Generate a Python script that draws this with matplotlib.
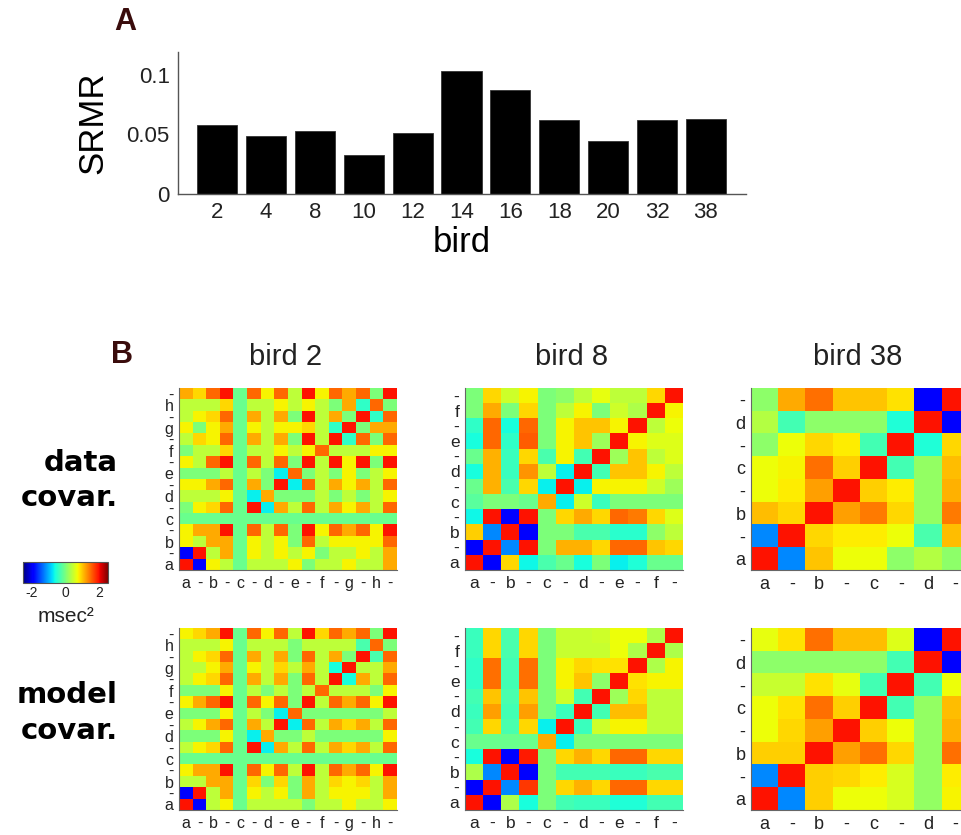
import matplotlib
matplotlib.use("Agg")
import matplotlib.pyplot as plt
import numpy as np

plt.rcParams['font.family'] = ['Liberation Sans', 'DejaVu Sans']
plt.rcParams['axes.unicode_minus'] = False

# ---------------- data ----------------
birds = ['2', '4', '8', '10', '12', '14', '16', '18', '20', '32', '38']
srmr = [0.0575, 0.0482, 0.0532, 0.0329, 0.0515, 0.103, 0.0874, 0.0622, 0.0441, 0.0616, 0.0627]

labels_b2 = ['a', '-', 'b', '-', 'c', '-', 'd', '-', 'e', '-', 'f', '-', 'g', '-', 'h', '-']
labels_b8 = ['a', '-', 'b', '-', 'c', '-', 'd', '-', 'e', '-', 'f', '-']
labels_b38 = ['a', '-', 'b', '-', 'c', '-', 'd', '-']

# covariance matrices, rows listed from top (last syllable) to bottom ('a')
b2_data = [
    [1.15, 0.9, 1.5, 1.95, -0.1, 1.5, 0.75, 1.5, 0.4, 1.95, 0.75, 1.5, 1.15, 1.5, 0, 1.95],
    [0.4, 0.4, 0.4, 0.9, -0.1, 0.4, 0.4, 0.75, 0.4, 0.75, 0.4, 0, 1.15, -0.45, 1.5, 0],
    [0.4, 0.75, 0.9, 1.5, -0.1, 1.15, 0.4, 1.15, 0, 1.95, 0.4, 1.15, 0, 1.95, -0.45, 1.5],
    [0.75, 0, 0.75, 1.15, -0.1, 0.75, 0.4, 0.75, 0.75, 0.9, 0.4, -0.45, 1.95, 0, 1.15, 1.15],
    [0.4, 0.9, 0.75, 1.5, -0.1, 1.15, 0.4, 1.15, 0, 1.95, 0.4, 1.95, -0.45, 1.5, 0, 1.5],
    [0, 0.4, 0.4, 0.9, -0.1, 0.4, 0.4, 0.75, 0.4, 0.75, 1.5, 0.4, 0.4, 0.4, 0.75, 0.75],
    [0.75, 0.4, 1.5, 1.95, -0.1, 1.5, 0.4, 1.5, 0, 1.95, 0.4, 1.95, 0.75, 1.95, 0, 1.95],
    [0, 0, 0, 0.4, -0.1, 0.4, 0, -0.7, 1.5, 0, 0.4, 0, 0.75, 0, 0.4, 0.75],
    [0.75, 0.75, 1.15, 1.5, -0.1, 1.15, 0, 1.95, -0.7, 1.5, 0.4, 1.15, 0.75, 1.15, 0.4, 1.5],
    [0.4, 0.4, 0.4, 0.75, -0.1, -0.7, 1.15, 0, 0, 0, 0.4, 0, 0.4, 0, 0.4, 0.75],
    [0, 0.75, 0.9, 1.5, -0.1, 1.95, -0.7, 1.15, 0.4, 1.5, 0.4, 1.15, 0.75, 1.15, 0.4, 1.5],
    [-0.1, -0.1, -0.1, -0.1, -0.1, -0.1, -0.1, -0.1, -0.1, -0.1, -0.1, -0.1, -0.1, -0.1, -0.1, -0.1],
    [0.75, 1.15, 1.15, 1.95, -0.1, 1.5, 0.4, 1.5, 0, 1.95, 0.75, 1.5, 1.15, 1.5, 0.75, 1.95],
    [0.75, 0.4, 1.15, 1.15, -0.1, 0.75, 0.4, 0.75, 0, 1.5, 0.4, 0.75, 0.75, 0.75, 0.75, 1.5],
    [-1.9, 1.95, 0.4, 1.15, -0.1, 0.75, 0.4, 0.75, 0.4, 0.75, 0, 0.4, 0.4, 0.75, 0.4, 1.15],
    [1.95, -1.9, 0.75, 0.4, -0.1, 0.4, 0.4, 0.4, 0.75, 0, 0.4, 0.4, 0.75, 0.4, 0.4, 1.15],
]
b2_model = [
    [0.75, 0.9, 1.15, 1.95, -0.1, 1.5, 0.75, 1.5, 0.4, 1.95, 0.9, 1.5, 1.15, 1.5, 0, 1.95],
    [0.4, 0.4, 0.4, 0.75, -0.1, 0.4, 0.4, 0.4, 0, 0.4, 0.4, 0.4, 0.4, -0.3, 1.5, 0],
    [0.4, 0.75, 0.9, 1.5, -0.1, 1.15, 0.4, 1.15, 0, 1.5, 0.4, 1.15, 0, 1.95, -0.3, 1.5],
    [0.4, 0.4, 0.75, 1.15, -0.1, 0.75, 0.4, 0.9, 0.4, 1.15, 0.4, -0.6, 1.95, 0.4, 0.4, 1.15],
    [0.4, 0.75, 0.9, 1.5, -0.1, 1.15, 0.4, 1.15, 0, 1.5, 0.4, 1.95, -0.6, 1.15, 0.4, 1.5],
    [0, 0, 0, 0.75, -0.1, 0.4, 0, 0.4, 0, 0.4, 1.5, 0.4, 0.4, 0.4, 0, 0.75],
    [0.75, 1.15, 1.5, 1.95, -0.1, 1.5, 0.75, 1.5, 0, 1.95, 0.4, 1.5, 1.15, 1.5, 0.75, 1.95],
    [0, 0, 0, 0.75, -0.1, 0.4, 0, -0.7, 1.5, 0, 0, 0, 0, 0, 0, 0.4],
    [0.4, 0.75, 1.15, 1.5, -0.1, 1.15, 0.4, 1.95, -0.7, 1.5, 0.4, 1.15, 0.9, 1.15, 0.4, 1.5],
    [0, 0, 0, 0.75, -0.1, -0.7, 1.15, 0, 0, 0.4, 0, 0, 0, 0, 0, 0.75],
    [0.4, 0.75, 0.9, 1.5, -0.1, 1.95, -0.7, 1.15, 0.4, 1.5, 0.4, 1.15, 0.9, 1.15, 0.4, 1.5],
    [-0.1, -0.1, -0.1, -0.1, -0.1, -0.1, -0.1, -0.1, -0.1, -0.1, -0.1, -0.1, -0.1, -0.1, -0.1, -0.1],
    [0.75, 1.15, 1.15, 1.95, -0.1, 1.5, 0.75, 1.5, 0.4, 1.95, 0.4, 1.5, 1.15, 1.5, 0.75, 1.95],
    [0.4, 0.4, 1.15, 1.15, -0.1, 0.9, 0, 0.9, 0, 1.15, 0.4, 0.9, 0.75, 0.9, 0.4, 1.15],
    [-1.9, 1.95, 0.4, 1.15, -0.1, 0.75, 0.4, 0.75, 0, 1.15, 0.4, 0.75, 0.75, 0.75, 0.4, 1.15],
    [1.95, -1.9, 0.4, 0.75, -0.1, 0.4, 0.4, 0.4, 0.4, 0, 0.4, 0.4, 0.75, 0.4, 0.4, 0.75],
]
b8_data = [
    [0, 0.9, 0.5, 0.75, 0, 0.1, 0.4, 0.65, 0.4, 0.4, 0.9, 1.95],
    [0, 1.15, 0, 0.9, 0, 0.4, 0.75, 0, 0.5, 0.3, 1.95, 0.75],
    [-0.45, 1.5, -0.6, 1.5, 0, 0.75, 1.0, 1.0, 0.75, 1.95, 0.4, 0.7],
    [-0.6, 1.5, -0.45, 1.55, 0, 0.75, 1.0, 0.2, 1.95, 0.75, 0.6, 0.6],
    [-0.1, 1.1, -0.4, 0.9, -0.3, 0.75, -0.35, 1.95, 0.2, 1.0, 0.4, 0.6],
    [-0.6, 1.1, -0.4, 1.25, 0.4, -0.7, 1.95, -0.35, 1.0, 1.0, 0.75, 0.4],
    [-0.1, 1.1, -0.3, 0.9, -0.7, 1.95, -0.7, 0.75, 0.75, 0.75, 0.5, 0.2],
    [-0.2, 0, 0, -0.1, 1.15, -0.7, 0.5, -0.4, 0, 0, 0, 0],
    [-0.65, 1.95, -1.9, 1.95, 0, 0.9, 1.15, 0.9, 1.5, 1.4, 0.9, 0.6],
    [0.95, -1.2, 1.95, -1.9, 0, 0, -0.3, -0.3, -0.5, -0.5, 0.1, 0.4],
    [-1.9, 1.95, -1.2, 1.95, 0, 1.1, 1.1, 0.9, 1.5, 1.5, 1.0, 0.9],
    [1.95, -1.9, 0.9, -0.65, -0.3, -0.1, -0.6, 0, -0.7, -0.55, -0.1, -0.1],
]
b8_model = [
    [-0.4, 0.9, -0.3, 0.9, 0, 0.45, 0.45, 0.5, 0.7, 0.7, 0.3, 1.95],
    [-0.4, 0.9, -0.3, 0.9, 0, 0.45, 0.45, 0.45, 0.7, 0.3, 1.95, 0.3],
    [-0.45, 1.45, -0.35, 1.45, 0, 0.75, 0.9, 0.85, 0.85, 1.95, 0.3, 0.75],
    [-0.45, 1.45, -0.35, 1.45, 0, 0.75, 1.0, 0.1, 1.95, 0.85, 0.75, 0.75],
    [-0.35, 1.0, -0.3, 1.0, 0, 0.5, -0.35, 1.95, 0.2, 0.9, 0.4, 0.4],
    [-0.4, 1.2, -0.35, 1.2, 0, -0.4, 1.95, -0.35, 1.05, 1.05, 0.4, 0.4],
    [-0.35, 0.9, -0.3, 0.9, -0.7, 1.95, -0.4, 0.5, 0.75, 0.75, 0.4, 0.4],
    [-0.1, -0.1, -0.1, -0.1, 1.15, -0.7, 0, 0, 0, 0, 0, 0],
    [-0.6, 1.95, -1.9, 1.9, 0, 0.9, 1.1, 0.9, 1.5, 1.5, 0.9, 0.9],
    [0.3, -1.2, 1.95, -1.9, 0, -0.35, -0.35, -0.35, -0.4, -0.4, -0.3, -0.3],
    [-1.9, 1.95, -1.2, 1.75, 0, 0.9, 1.1, 0.9, 1.5, 1.5, 0.9, 0.9],
    [1.95, -1.9, 0.3, -0.6, 0, -0.35, -0.4, -0.4, -0.55, -0.55, -0.35, -0.35],
]
b38_data = [
    [0.1, 1.15, 1.45, 1.0, 1.0, 0.85, -1.9, 1.95],
    [0.35, -0.35, 0.1, 0.1, 0.1, -0.55, 1.95, -1.9],
    [0.1, 0.7, 0.9, 0.8, -0.35, 1.95, -0.55, 0.9],
    [0.7, 0.75, 1.45, 0.95, 1.95, -0.35, 0.15, 1.05],
    [0.7, 0.8, 1.2, 1.95, 0.95, 0.8, 0.15, 1.1],
    [1.05, 0.9, 1.95, 1.2, 1.4, 0.9, 0.15, 1.4],
    [-1.2, 1.95, 0.9, 0.8, 0.8, 0.7, -0.3, 1.05],
    [1.95, -1.2, 1.0, 0.7, 0.7, 0.1, 0.35, 0.1],
]
b38_model = [
    [0.65, 0.85, 1.45, 1.05, 1.05, 0.6, -1.9, 1.95],
    [0.1, 0.1, 0.1, 0.1, 0.1, -0.35, 1.95, -1.9],
    [0.45, 0.45, 0.85, 0.65, -0.35, 1.95, -0.35, 0.7],
    [0.7, 0.85, 1.45, 0.95, 1.95, -0.35, 0.15, 1.05],
    [0.7, 0.9, 1.2, 1.95, 0.95, 0.7, 0.15, 1.1],
    [0.95, 0.95, 1.95, 1.2, 1.45, 0.9, 0.15, 1.45],
    [-1.2, 1.95, 0.95, 0.9, 0.8, 0.55, 0.15, 0.8],
    [1.95, -1.2, 0.95, 0.7, 0.7, 0.55, 0.15, 0.75],
]

VMIN, VMAX = -2.5, 2.5

# ---------------- figure ----------------
W, H = 962, 835
fig = plt.figure(figsize=(W / 100, H / 100), dpi=100)


def box(x0, y0, x1, y1):
    return [x0 / W, 1 - y1 / H, (x1 - x0) / W, (y1 - y0) / H]


# panel A
axA = fig.add_axes(box(178, 52, 746, 194))
xpos = np.arange(1, len(birds) + 1)
axA.bar(xpos, srmr, width=0.82, color='black', edgecolor='#333333', linewidth=0.6)
axA.set_xlim(0.2, 11.82)
axA.set_ylim(0, 0.119)
axA.set_xticks(xpos)
axA.set_xticklabels(birds)
axA.set_yticks([0, 0.05, 0.1])
axA.set_yticklabels(['0', '0.05', '0.1'])
axA.tick_params(length=0, labelsize=16, pad=6, colors='#222222')
for s in ['top', 'right']:
    axA.spines[s].set_visible(False)
for s in ['left', 'bottom']:
    axA.spines[s].set_color('#555555')
    axA.spines[s].set_linewidth(1.0)
axA.set_ylabel('SRMR', fontsize=25, labelpad=12)
axA.set_xlabel('bird', fontsize=25, labelpad=2)

fig.text(125 / W, 1 - 22 / H, 'A', fontsize=22, fontweight='bold', color='#3a0c0c',
         ha='center', va='center')
fig.text(122 / W, 1 - 355 / H, 'B', fontsize=22, fontweight='bold', color='#3a0c0c',
         ha='center', va='center')

# panel B heatmaps
cols = [(179, 397), (465, 683), (751, 969)]
rows = [(388, 570), (628, 810)]
mats = [[b2_data, b8_data, b38_data], [b2_model, b8_model, b38_model]]
labs = [labels_b2, labels_b8, labels_b38]
titles = ['bird 2', 'bird 8', 'bird 38']
lsize = [11.5, 12.5, 13]

im = None
for r, (y0, y1) in enumerate(rows):
    for c, (x0, x1) in enumerate(cols):
        ax = fig.add_axes(box(x0, y0, x1, y1))
        M = np.array(mats[r][c])
        im = ax.imshow(M, cmap='jet', vmin=VMIN, vmax=VMAX, aspect='auto',
                       interpolation='nearest')
        n = M.shape[0]
        ax.set_xticks(np.arange(n))
        ax.set_xticklabels(labs[c])
        ax.set_yticks(np.arange(n))
        ax.set_yticklabels(labs[c][::-1])
        ax.tick_params(length=0, labelsize=lsize[c], pad=4, colors='#222222')
        for s in ['top', 'right']:
            ax.spines[s].set_visible(False)
        for s in ['left', 'bottom']:
            ax.spines[s].set_color('#666666')
            ax.spines[s].set_linewidth(0.8)
        if r == 0:
            fig.text(((x0 + x1) / 2 - 2) / W, 1 - 357 / H, titles[c], fontsize=21,
                     ha='center', va='center', color='#222222')

# row labels
bold_kw = dict(fontsize=21, fontweight='bold', ha='right', va='center',
               family='DejaVu Sans', color='black')
fig.text(118 / W, 1 - 463 / H, 'data', **bold_kw)
fig.text(118 / W, 1 - 498 / H, 'covar.', **bold_kw)
fig.text(118 / W, 1 - 695 / H, 'model', **bold_kw)
fig.text(118 / W, 1 - 731 / H, 'covar.', **bold_kw)

# colorbar
cax = fig.add_axes(box(23, 562, 108, 583))
cb = fig.colorbar(im, cax=cax, orientation='horizontal', ticks=[-2, 0, 2])
cb.ax.tick_params(length=0, labelsize=10, pad=2, colors='#222222')
cb.outline.set_edgecolor('#555555')
cb.outline.set_linewidth(0.8)
fig.text(66 / W, 1 - 616 / H, 'msec²', fontsize=15, ha='center', va='center',
         color='#222222')

fig.savefig('out.png', dpi=100)
